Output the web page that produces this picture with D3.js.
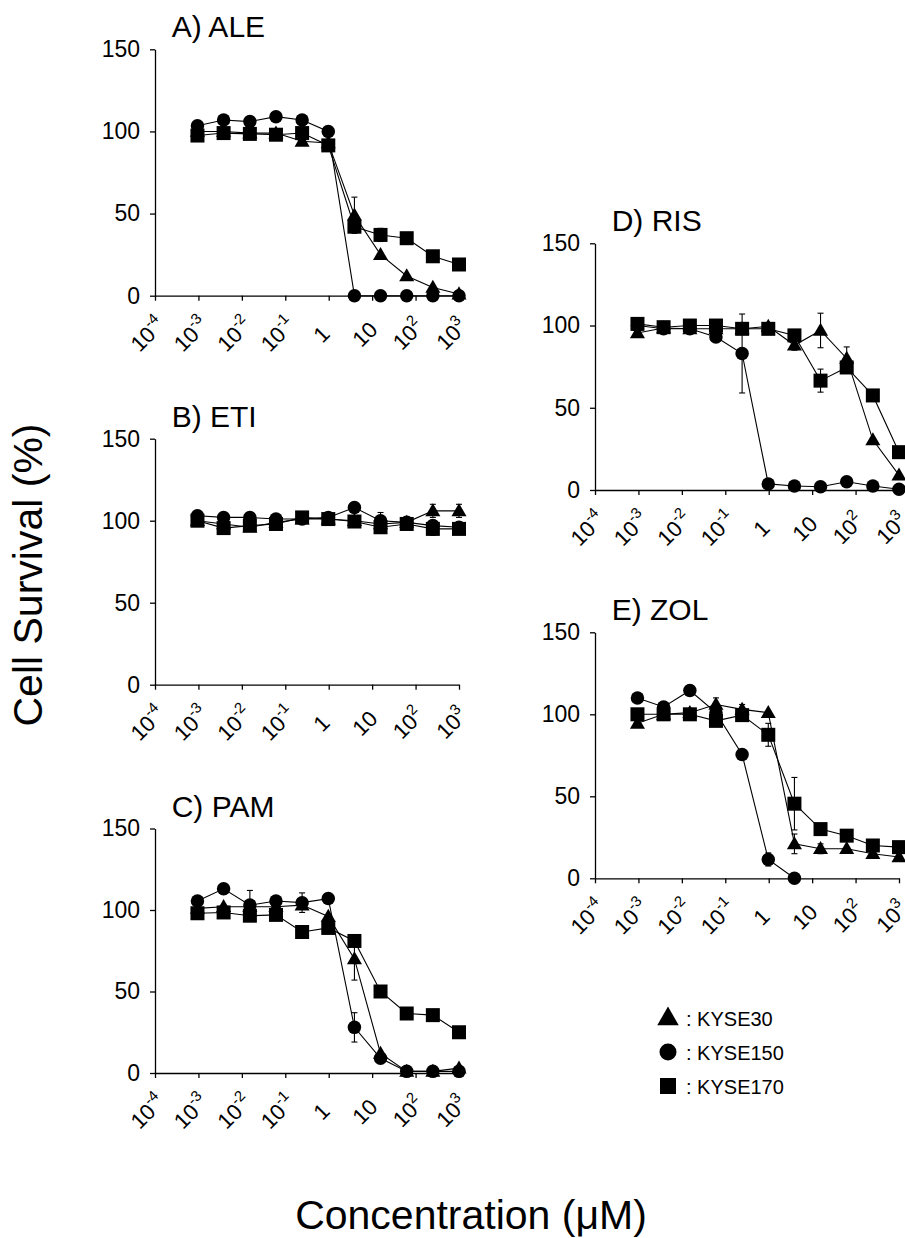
<!DOCTYPE html>
<html>
<head>
<meta charset="utf-8">
<script src="https://cdn.jsdelivr.net/npm/d3@7"></script>
<style>
  body { margin: 0; background: #fff; }
  svg { font-family: "Liberation Sans", Arial, sans-serif; }
</style>
</head>
<body>
<script>
// concentrations (uM), 4-fold dilutions from 1000
const conc = [0.00095, 0.0038, 0.0153, 0.061, 0.244, 0.977, 3.91, 15.6, 62.5, 250, 1000];
const decades = [1e-4, 1e-3, 1e-2, 1e-1, 1, 10, 100, 1000];
const decadeLabels = [["10", "-4"], ["10", "-3"], ["10", "-2"], ["10", "-1"], ["1", ""], ["10", ""], ["10", "2"], ["10", "3"]];
const yTicks = [0, 50, 100, 150];
const cellLines = ["KYSE30", "KYSE150", "KYSE170"];

// mean survival (%), rows: KYSE30, KYSE150, KYSE170
const ALE = [
    [100, 100, 99, 99, 94, 93, 49, 25, 12, 5, 1],
    [103.5, 107, 106, 109, 107, 100, 0, 0, 0, 0, 0],
    [97.5, 99, 98.5, 98, 99, 91.5, 42, 37, 35, 24, 19]
];
const ALE_sd = [
    [1, 1, 1, 1, 2, 2, 11, 2, 2, 1, 1],
    [1, 1, 1, 1, 1, 1, 0, 0, 0, 0, 0],
    [1, 1, 1, 1, 1, 2, 3, 4, 2, 2, 1]
];
const ETI = [
    [100, 98, 96, 99, 101, 101, 100, 98, 99, 106, 106],
    [103, 102, 102, 101, 101, 102, 108, 100, 99, 97, 96],
    [100, 95.5, 97, 98, 102, 101, 99.5, 96, 98, 95, 95]
];
const ETI_sd = [
    [1, 1, 2, 1, 1, 1, 1, 1, 1, 4, 4],
    [1, 1, 1, 1, 1, 1, 1, 5, 1, 1, 1],
    [1, 1, 1, 1, 1, 3, 1, 2, 2, 4, 1]
];
const PAM = [
    [101, 102, 102, 102, 103, 96, 70, 12, 1, 1, 3],
    [105.5, 113, 103, 105.5, 104.5, 107, 28, 9, 1, 1, 1],
    [98, 98.5, 96.5, 97, 86.5, 89, 81, 50, 36.5, 35.5, 25]
];
const PAM_sd = [
    [1, 2, 1, 1, 1, 2, 13, 2, 1, 1, 1],
    [1, 3, 9, 2, 6, 1, 9, 2, 0, 0, 0],
    [1, 1, 1, 1, 2, 2, 2, 1, 1, 1, 1]
];
const RIS = [
    [95.5, 98.5, 98, 98, 98, 99.5, 88, 97, 80, 30.5, 9],
    [100, 98, 98, 93, 83, 3.7, 2.4, 2, 5, 2.4, 0.5],
    [101, 99, 100, 100, 98, 98, 94, 66.5, 74.5, 57.5, 23]
];
const RIS_sd = [
    [1, 1, 1, 1, 1, 2, 3, 10.5, 7, 1, 1],
    [1, 1, 1, 1, 24, 1, 1, 1, 1, 1, 0],
    [1, 1, 1, 1, 2, 1, 2, 7, 2, 1, 1]
];
const ZOL = [
    [94.5, 100, 101, 106, 103, 101, 21, 18, 18, 15, 13],
    [110, 104.5, 114.5, 101, 75.5, 11.5, 0, null, null, null, null],
    [100, 100, 100, 96, 99.5, 87.5, 45.5, 30, 26, 20, 19]
];
const ZOL_sd = [
    [1, 1, 1, 4, 3, 1, 6, 3, 1, 1, 1],
    [1, 1, 1, 1, 3, 4, 0, null, null, null, null],
    [1, 1, 1, 1, 1, 7, 16, 1, 1, 1, 1]
];

const W = 905, H = 1238;
const panels = [
    {title: "A) ALE", mean: ALE, sd: ALE_sd, x0: 155, x1: 459, top: 49.3, bottom: 295.7},
    {title: "B) ETI", mean: ETI, sd: ETI_sd, x0: 155, x1: 459, top: 438.7, bottom: 684.7},
    {title: "C) PAM", mean: PAM, sd: PAM_sd, x0: 155, x1: 459, top: 828.5, bottom: 1073},
    {title: "D) RIS", mean: RIS, sd: RIS_sd, x0: 595, x1: 899, top: 243.3, bottom: 490},
    {title: "E) ZOL", mean: ZOL, sd: ZOL_sd, x0: 595, x1: 899, top: 632.3, bottom: 878.3}
];

const svg = d3.select("body").append("svg")
    .attr("width", W)
    .attr("height", H);

function marker(g, type, cx, cy, s) {
    if (type === 0) {
        g.append("path")
            .attr("d", d3.symbol(d3.symbolTriangle, s * s * 0.5)())
            .attr("transform", "translate(" + cx + "," + (cy + 1) + ")")
            .attr("fill", "#000");
    } else if (type === 1) {
        g.append("circle").attr("cx", cx).attr("cy", cy).attr("r", s / 2).attr("fill", "#000");
    } else {
        g.append("rect").attr("x", cx - s / 2).attr("y", cy - s / 2)
            .attr("width", s).attr("height", s).attr("fill", "#000");
    }
}

panels.forEach(p => {
    const x = d3.scaleLog().domain([1e-4, 1e3]).range([p.x0, p.x1]);
    const y = d3.scaleLinear().domain([0, 150]).range([p.bottom, p.top]);
    const g = svg.append("g");

    // y axis
    const ya = g.append("g")
        .attr("transform", "translate(" + p.x0 + ",0)")
        .call(d3.axisLeft(y).tickValues(yTicks).tickSize(5).tickSizeOuter(0).tickPadding(10));
    ya.selectAll("text").attr("font-size", 23).attr("fill", "#000").attr("font-family", null);
    ya.selectAll("line, path").attr("stroke", "#000").attr("stroke-width", 1.3);

    // x axis
    const xa = g.append("g")
        .attr("transform", "translate(0," + p.bottom + ")")
        .call(d3.axisBottom(x).tickValues(decades).tickSize(5).tickSizeOuter(0).tickFormat(""));
    xa.selectAll("line, path").attr("stroke", "#000").attr("stroke-width", 1.3);

    decades.forEach((d, i) => {
        const t = g.append("text")
            .attr("transform", "translate(" + (x(d) - 2) + "," + (p.bottom + 44) + ") rotate(-45)")
            .attr("text-anchor", "middle")
            .attr("font-size", 22)
            .attr("fill", "#000")
            .text(decadeLabels[i][0]);
        if (decadeLabels[i][1]) {
            t.append("tspan")
                .attr("font-size", 15)
                .attr("dy", -10)
                .text(decadeLabels[i][1]);
        }
    });

    g.append("text")
        .attr("x", p.x0 + 16.7)
        .attr("y", p.top - 12)
        .attr("font-size", 30)
        .attr("fill", "#000")
        .text(p.title);

    const line = d3.line()
        .defined(d => d[1] != null)
        .x(d => x(d[0]))
        .y(d => y(d[1]));

    // draw order: triangles, squares, circles
    [0, 2, 1].forEach(s => {
        const pts = conc.map((c, i) => [c, p.mean[s][i], p.sd[s][i]]);
        g.append("path")
            .datum(pts)
            .attr("d", line)
            .attr("fill", "none")
            .attr("stroke", "#000")
            .attr("stroke-width", 1.1);
        pts.filter(d => d[1] != null && d[2] > 2).forEach(d => {
            const cx = x(d[0]);
            g.append("line").attr("x1", cx).attr("x2", cx)
                .attr("y1", y(d[1] - d[2])).attr("y2", y(d[1] + d[2]))
                .attr("stroke", "#000").attr("stroke-width", 1.1);
            [d[1] - d[2], d[1] + d[2]].forEach(v => {
                g.append("line").attr("x1", cx - 3).attr("x2", cx + 3)
                    .attr("y1", y(v)).attr("y2", y(v))
                    .attr("stroke", "#000").attr("stroke-width", 1.1);
            });
        });
        pts.filter(d => d[1] != null).forEach(d => {
            marker(g, s, x(d[0]), y(d[1]), s === 1 ? 13.5 : 14);
        });
    });
});

// legend
const legY = [1018, 1052, 1086];
cellLines.forEach((name, i) => {
    const lg = svg.append("g");
    marker(lg, i, 668, legY[i], i === 0 ? 20 : (i === 1 ? 17 : 16));
    lg.append("text")
        .attr("x", 686)
        .attr("y", legY[i] + 7.5)
        .attr("font-size", 20)
        .attr("fill", "#000")
        .text(": " + name);
});

svg.append("text")
    .attr("transform", "translate(42,575) rotate(-90)")
    .attr("text-anchor", "middle")
    .attr("font-size", 41)
    .attr("fill", "#000")
    .text("Cell Survival (%)");

svg.append("text")
    .attr("x", 471)
    .attr("y", 1229)
    .attr("text-anchor", "middle")
    .attr("font-size", 41)
    .attr("fill", "#000")
    .text("Concentration (\u03bcM)");
</script>
</body>
</html>
